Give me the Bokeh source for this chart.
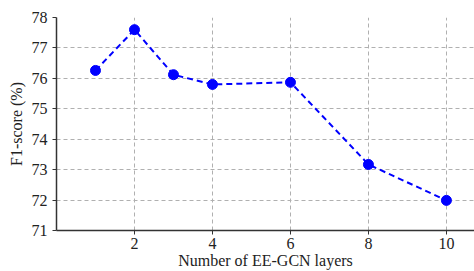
from bokeh.plotting import figure
from bokeh.models import Range1d, FixedTicker, ColumnDataSource
from bokeh.embed import file_html
from bokeh.resources import INLINE

layers = [1, 2, 3, 4, 6, 8, 10]
f1 = [76.26, 77.60, 76.12, 75.80, 75.87, 73.17, 71.99]
x_ticks = [2, 4, 6, 8, 10]
y_ticks = [71, 72, 73, 74, 75, 76, 77, 78]

src = ColumnDataSource(data=dict(x=layers, y=f1))

p = figure(width=474, height=271, output_backend="svg", toolbar_location=None,
           x_range=Range1d(0, 10.72), y_range=Range1d(71, 78),
           min_border_left=56, min_border_right=0, min_border_top=17, min_border_bottom=41)
p.outline_line_color = None
p.background_fill_color = "white"
p.border_fill_color = "white"

p.line("x", "y", source=src, line_color="#0000ff", line_width=2, line_dash="6 4")
p.scatter("x", "y", source=src, size=10, fill_color="#0000ff", line_color="#0000ff")

font = "Liberation Serif"
for ax in (p.xaxis[0], p.yaxis[0]):
    ax.axis_line_color = "#333333"
    ax.axis_line_width = 1.5
    ax.major_tick_line_color = "#333333"
    ax.major_tick_out = 4
    ax.major_tick_in = 0
    ax.minor_tick_line_color = None
    ax.major_label_text_font = font
    ax.major_label_text_font_size = "16px"
    ax.major_label_text_color = "#222222"
    ax.axis_label_text_font = font
    ax.axis_label_text_font_size = "16px"
    ax.axis_label_text_font_style = "normal"
    ax.axis_label_text_color = "#222222"

p.xaxis.ticker = FixedTicker(ticks=x_ticks)
p.yaxis.ticker = FixedTicker(ticks=y_ticks)
p.xaxis.axis_label = "Number of EE-GCN layers"
p.yaxis.axis_label = "F1-score (%)"
p.xaxis.major_label_standoff = 3
p.yaxis.major_label_standoff = 5
p.xaxis.axis_label_standoff = 0
p.yaxis.axis_label_standoff = 4

for g in (p.xgrid[0], p.ygrid[0]):
    g.grid_line_color = "#b0b0b0"
    g.grid_line_dash = "4 3"
    g.grid_line_width = 1

open("out.html", "w").write(file_html(p, INLINE))
